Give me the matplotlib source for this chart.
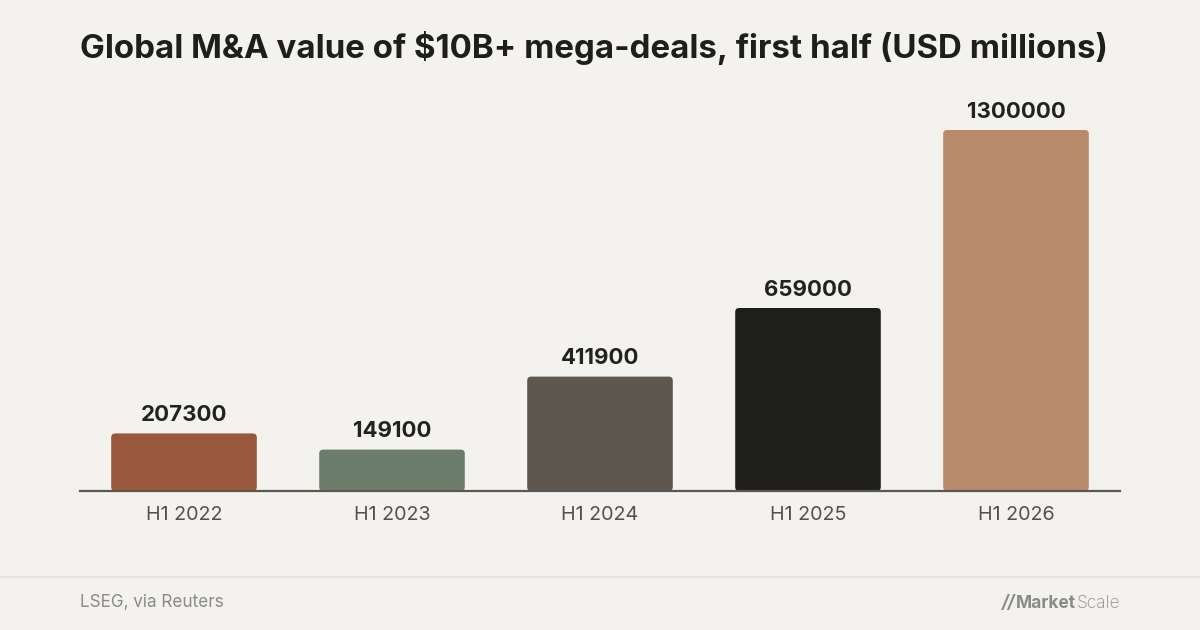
import matplotlib
matplotlib.use('Agg')
import matplotlib.pyplot as plt
from matplotlib.patches import FancyBboxPatch

# data
categories = ['H1 2022', 'H1 2023', 'H1 2024', 'H1 2025', 'H1 2026']
values = [207300, 149100, 411900, 659000, 1300000]
bar_colors = ['#9a583c', '#6b7d6a', '#5e5750', '#1e1e1c', '#b98b6d']

title = 'Global M&A value of $10B+ mega-deals, first half (USD millions)'
source = 'LSEG, via Reuters'

BG = '#f4f2ee'
GREY = '#8a8a88'
plt.rcParams['font.family'] = ['Inter', 'DejaVu Sans']

fig = plt.figure(figsize=(12, 6.3), dpi=100, facecolor=BG)
ax = fig.add_axes([80 / 1200, 139 / 630, 1040 / 1200, 361 / 630])
ax.set_facecolor(BG)

bars = ax.bar(categories, values, width=0.70, color=bar_colors)
ax.set_xlim(-0.5, len(categories) - 0.5)
ax.set_ylim(0, max(values))

# swap the plain rectangles for slightly rounded ones
px_x = 1040 / len(categories)          # pixels per x unit
px_y = 361 / max(values)               # pixels per y unit
r = 4 / px_x
for b in bars:
    x, y = b.get_x(), b.get_y()
    w, h = b.get_width(), b.get_height()
    b.set_visible(False)
    patch = FancyBboxPatch((x + r, y + r * px_x / px_y), w - 2 * r, h - 2 * r * px_x / px_y,
                           boxstyle=f'round,pad={r}',
                           mutation_aspect=px_x / px_y,
                           facecolor=b.get_facecolor(), edgecolor='none', zorder=2)
    ax.add_patch(patch)

for i, v in enumerate(values):
    ax.annotate(f'{v}', (i, v), xytext=(0, 6), textcoords='offset points',
                ha='center', va='bottom', fontsize=16, fontweight='bold',
                color='#222222', clip_on=False)

for s in ['top', 'right', 'left']:
    ax.spines[s].set_visible(False)
ax.spines['bottom'].set_color('#5e5750')
ax.spines['bottom'].set_linewidth(1.6)
ax.spines['bottom'].set_zorder(3)
ax.set_yticks([])
ax.tick_params(axis='x', length=0, pad=11, labelsize=14.2, labelcolor='#555049')

fig.text(80 / 1200, 1 - 48 / 630, title, fontsize=23.8, fontweight='bold',
         color='#1e1e1c', ha='left', va='center')

# footer
fig.add_artist(plt.Line2D([0, 1], [1 - 577 / 630] * 2, color='#e6e3de', linewidth=1.5))
fig.text(80 / 1200, 1 - 603 / 630, source, fontsize=12.3, color=GREY,
         ha='left', va='center')

# logo: "//Market" bold + "Scale" light, laid out right to left
fig.canvas.draw()
rend = fig.canvas.get_renderer()
ly = 1 - 604 / 630
t_scale = fig.text(1120 / 1200, ly, 'Scale', fontsize=12.5, fontweight='light',
                   color=GREY, ha='right', va='center')
x0 = t_scale.get_window_extent(rend).x0
t_market = fig.text(x0 / 1200, ly, 'Market', fontsize=12.5, fontweight='bold',
                    color=GREY, ha='right', va='center')
x1 = t_market.get_window_extent(rend).x0
fig.text((x1 - 1) / 1200, ly, '//', fontsize=12.5, fontweight='bold',
         fontstyle='italic', color=GREY, ha='right', va='center')

fig.savefig('out.png', dpi=100, facecolor=BG)
plt.close(fig)
